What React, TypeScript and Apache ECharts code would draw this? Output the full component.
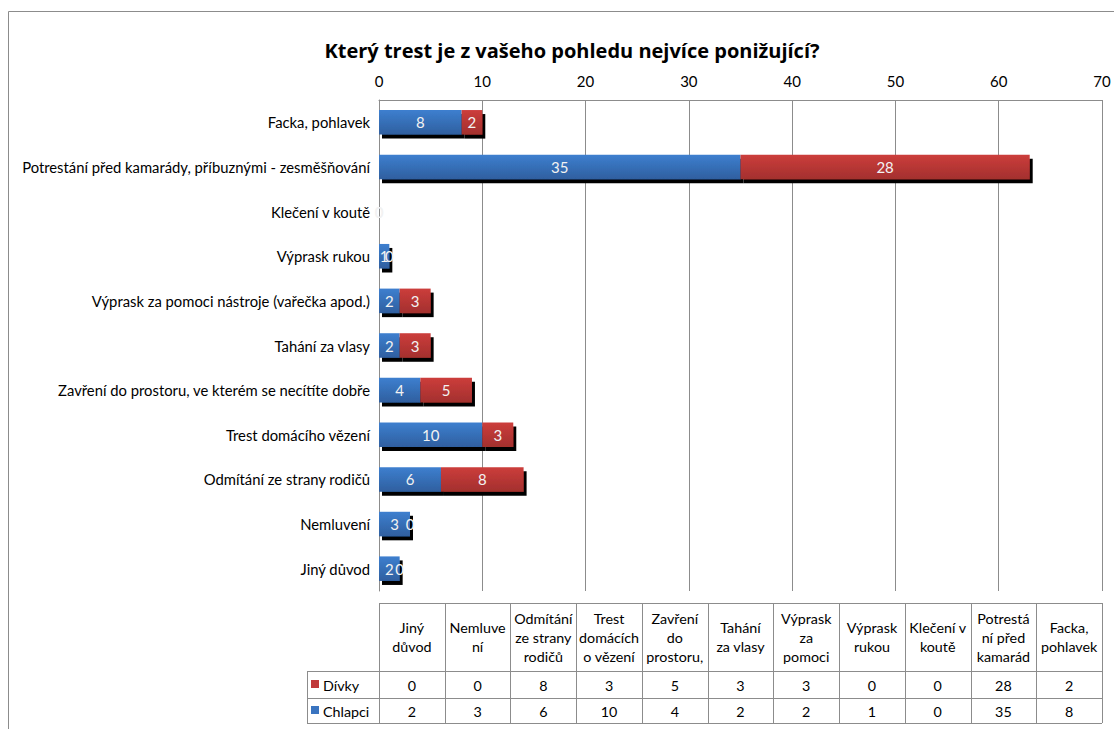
import React, { useEffect, useRef } from "react";
import * as echarts from "echarts";

const categories = [
  "Jiný důvod",
  "Nemluvení",
  "Odmítání ze strany rodičů",
  "Trest domácího vězení",
  "Zavření do prostoru, ve kterém se necítíte dobře",
  "Tahání za vlasy",
  "Výprask za pomoci nástroje (vařečka apod.)",
  "Výprask rukou",
  "Klečení v koutě",
  "Potrestání před kamarády, příbuznými - zesměšňování",
  "Facka, pohlavek",
];
const tableHeaders = [
  "Jiný\ndůvod",
  "Nemluve\nní",
  "Odmítání\nze strany\nrodičů",
  "Trest\ndomácích\no vězení",
  "Zavření\ndo\nprostoru,",
  "Tahání\nza vlasy",
  "Výprask\nza\npomoci",
  "Výprask\nrukou",
  "Klečení v\nkoutě",
  "Potrestá\nní před\nkamarád",
  "Facka,\npohlavek",
];
const chlapci = [2, 3, 6, 10, 4, 2, 2, 1, 0, 35, 8];
const divky = [0, 0, 8, 3, 5, 3, 3, 0, 0, 28, 2];
const seriesNames = ["Chlapci", "Dívky"];
const title = "Který trest je z vašeho pohledu nejvíce ponižující?";
const xMin = 0;
const xMax = 70;
const xInterval = 10;

const FONT = "Lato, 'Open Sans', sans-serif";
const FS = 14.8;
const BLUE = new echarts.graphic.LinearGradient(0, 0, 0, 1, [
  { offset: 0, color: "#3d7fcf" },
  { offset: 1, color: "#2f5f9f" },
]);
const RED = new echarts.graphic.LinearGradient(0, 0, 0, 1, [
  { offset: 0, color: "#cc3d3b" },
  { offset: 1, color: "#a3302e" },
]);

export default function App() {
  const ref = useRef<HTMLDivElement>(null);
  useEffect(() => {
    document.body.style.margin = "0";
    const chart = echarts.init(ref.current!, null, { renderer: "svg" });
    const gridLeft = 379;
    const gridRightX = 1102;
    const W = 1114;
    const colW = (gridRightX - gridLeft) / categories.length;
    const tTop = 603;
    const tHead = 671;
    const tRow1 = 698;
    const tBot = 723;
    const legLeft = 307;
    const lineStyle = { stroke: "#8c8c8c", lineWidth: 1 };
    const graphics: any[] = [];
    graphics.push({
      type: "rect",
      shape: { x: 8.5, y: 11.5, width: 1200, height: 800 },
      style: { fill: "none", stroke: "#8c8c8c", lineWidth: 1 },
      silent: true,
    });
    graphics.push({ type: "line", shape: { x1: gridLeft, y1: tTop + 0.5, x2: gridRightX, y2: tTop + 0.5 }, style: lineStyle });
    [tHead, tRow1, tBot].forEach((y) =>
      graphics.push({ type: "line", shape: { x1: legLeft, y1: y + 0.5, x2: gridRightX, y2: y + 0.5 }, style: lineStyle })
    );
    graphics.push({ type: "line", shape: { x1: legLeft + 0.5, y1: tHead, x2: legLeft + 0.5, y2: tBot }, style: lineStyle });
    for (let i = 0; i <= categories.length; i++) {
      const x = Math.round(gridLeft + i * colW) + 0.5;
      graphics.push({ type: "line", shape: { x1: x, y1: tTop, x2: x, y2: tBot }, style: lineStyle });
    }
    const tf = `14.3px ${FONT}`;
    categories.forEach((_, i) => {
      const cx = gridLeft + (i + 0.5) * colW;
      graphics.push({
        type: "text",
        x: cx,
        y: (tTop + tHead) / 2,
        style: {
          text: tableHeaders[i],
          fill: "#000",
          font: tf,
          align: "center",
          verticalAlign: "middle",
          lineHeight: 19,
        },
      });
      graphics.push({
        type: "text",
        x: cx,
        y: (tHead + tRow1) / 2 + 1,
        style: { text: String(divky[i]), fill: "#000", font: tf, align: "center", verticalAlign: "middle" },
      });
      graphics.push({
        type: "text",
        x: cx,
        y: (tRow1 + tBot) / 2 + 1,
        style: { text: String(chlapci[i]), fill: "#000", font: tf, align: "center", verticalAlign: "middle" },
      });
    });
    graphics.push({ type: "rect", shape: { x: 311, y: 680, width: 8, height: 8 }, style: { fill: "#c0393a" } });
    graphics.push({
      type: "text", x: 323, y: (tHead + tRow1) / 2 + 1,
      style: { text: seriesNames[1], fill: "#000", font: tf, align: "left", verticalAlign: "middle" },
    });
    graphics.push({ type: "rect", shape: { x: 311, y: 706, width: 8, height: 8 }, style: { fill: "#3a74c0" } });
    graphics.push({
      type: "text", x: 323, y: (tRow1 + tBot) / 2 + 1,
      style: { text: seriesNames[0], fill: "#000", font: tf, align: "left", verticalAlign: "middle" },
    });

    const barItem = (color: any) => ({
      color,
      shadowColor: "#000",
      shadowOffsetX: 3,
      shadowOffsetY: 4,
      shadowBlur: 0,
    });
    const label = {
      show: true,
      position: "inside",
      color: "#f2f2f2",
      fontFamily: FONT,
      fontSize: 15,
    };

    chart.setOption({
      animation: false,
      backgroundColor: "#fff",
      title: {
        text: title,
        left: 567,
        textAlign: "center",
        top: 35,
        textStyle: { fontFamily: "'Open Sans', sans-serif", fontSize: 20, fontWeight: "bold", color: "#000" },
      },
      grid: { left: gridLeft, right: W - gridRightX, top: 100, bottom: 729 - 591, containLabel: false },
      xAxis: {
        type: "value",
        position: "top",
        min: xMin,
        max: xMax,
        interval: xInterval,
        axisLine: { show: true, lineStyle: { color: "#8c8c8c" } },
        axisTick: { show: false },
        axisLabel: { color: "#000", fontFamily: FONT, fontSize: 15, margin: 12 },
        splitLine: { show: true, lineStyle: { color: "#8c8c8c", width: 1 } },
      },
      yAxis: {
        type: "category",
        data: categories,
        axisLine: { show: true, lineStyle: { color: "#8c8c8c" } },
        axisTick: { show: false },
        axisLabel: { color: "#000", fontFamily: FONT, fontSize: FS, margin: 9 },
      },
      series: [
        {
          name: seriesNames[0],
          type: "bar",
          stack: "a",
          data: chlapci,
          barCategoryGap: "45%",
          itemStyle: barItem(BLUE),
          label,
        },
        {
          name: seriesNames[1],
          type: "bar",
          stack: "a",
          data: divky,
          barCategoryGap: "45%",
          itemStyle: barItem(RED),
          label,
        },
      ],
      graphic: graphics,
    });
    return () => chart.dispose();
  }, []);
  return <div ref={ref} style={{ width: 1114, height: 729 }} />;
}
